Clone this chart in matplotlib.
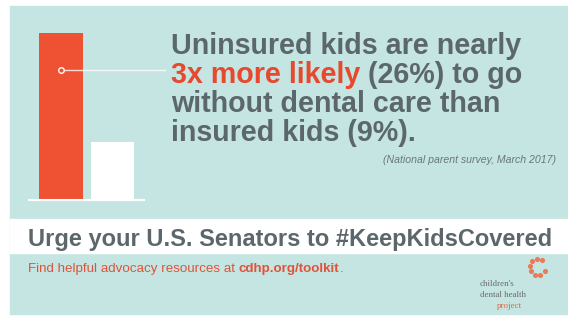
import numpy as np
import matplotlib.pyplot as plt
from matplotlib.patches import Rectangle

# data
groups = ['Uninsured', 'Insured']
pct = [26, 9]
bar_colors = ['#ef5232', '#ffffff']

headline = [
    [('Uninsured kids are nearly', '#5c676c')],
    [('3x more likely', '#e8482d'), (' (26%) to go', '#5c676c')],
    [('without dental care than', '#5c676c')],
    [('insured kids (9%).', '#5c676c')],
]
source = '(National parent survey, March 2017)'
cta = 'Urge your U.S. Senators to #KeepKidsCovered'
sub = [('Find helpful advocacy resources at ', 'normal'),
       ('cdhp.org/toolkit', 'bold'), ('.', 'normal')]
logo = ["children's", 'dental health', 'project']

W, H = 568, 316
plt.rcParams['font.family'] = ['Liberation Sans', 'DejaVu Sans']
fig = plt.figure(figsize=(W / 100, H / 100), dpi=100)
fig.patch.set_facecolor('white')

# background axis in pixel coords
bg = fig.add_axes([0, 0, 1, 1])
bg.set_xlim(0, W)
bg.set_ylim(H, 0)
bg.axis('off')
bg.add_patch(Rectangle((10, 6), W - 10, 308, color='#c4e5e1', zorder=0))
bg.add_patch(Rectangle((10, 219), W - 10, 34, color='white', zorder=1))

# headline, line by line with mixed colours
y0, dy = 54, 29
for i, parts in enumerate(headline):
    prev = None
    for txt, col in parts:
        if prev is None:
            prev = bg.text(171, y0 + i * dy, txt, color=col, fontsize=20.6,
                           fontweight='bold', va='baseline', ha='left')
        else:
            prev = bg.annotate(txt, xy=(1, 0), xycoords=prev, color=col,
                               fontsize=20.6, fontweight='bold',
                               va='bottom', ha='left')

bg.text(556, 163, source, color='#6b777b', fontsize=7.6, style='italic',
        ha='right', va='baseline')

bg.text(28, 246, cta, color='#5c676c', fontsize=17, fontweight='bold',
        ha='left', va='baseline')
prev = None
for txt, w in sub:
    if prev is None:
        prev = bg.text(28, 272, txt, color='#e0533a', fontsize=9.6,
                       fontweight=w, ha='left', va='baseline')
    else:
        prev = bg.annotate(txt, xy=(1, 0), xycoords=prev, color='#e0533a',
                           fontsize=9.6, fontweight=w, va='bottom', ha='left')

# logo
bg.text(480, 286, logo[0], family='Liberation Serif', fontsize=6.4,
        color='#6b6b6b', ha='left', va='baseline')
bg.text(480, 297, logo[1], family='Liberation Serif', fontsize=6.4,
        color='#6b6b6b', ha='left', va='baseline')
bg.text(522, 308, logo[2], family='Liberation Serif', fontsize=6.4,
        color='#e0633f', ha='right', va='baseline')
ang = np.deg2rad(np.arange(60, 330, 38))
bg.scatter(538 + 8 * np.cos(ang), 267 - 8 * np.sin(ang), s=7,
           color='#ee7a55', zorder=3)

# bar chart
ax = fig.add_axes([29 / W, (H - 200) / H, 115 / W, 167 / H])
ax.patch.set_alpha(0)
x = np.arange(len(groups))
ax.bar(x, pct, width=0.85, color=bar_colors, zorder=2)
ax.set_ylim(0, pct[0])
ax.set_xlim(-0.62, 1.61)
ax.axhline(0, color='white', lw=1.5, zorder=3, clip_on=False)
yp = 20.2
ax.plot([0, 2.02], [yp, yp], color='white', lw=1, alpha=0.8,
        clip_on=False, zorder=3)
ax.plot([0], [yp], 'o', ms=4, mfc=bar_colors[0], mec='white', mew=1,
        zorder=4)
ax.axis('off')

fig.savefig('out.png', dpi=100, facecolor='white')
